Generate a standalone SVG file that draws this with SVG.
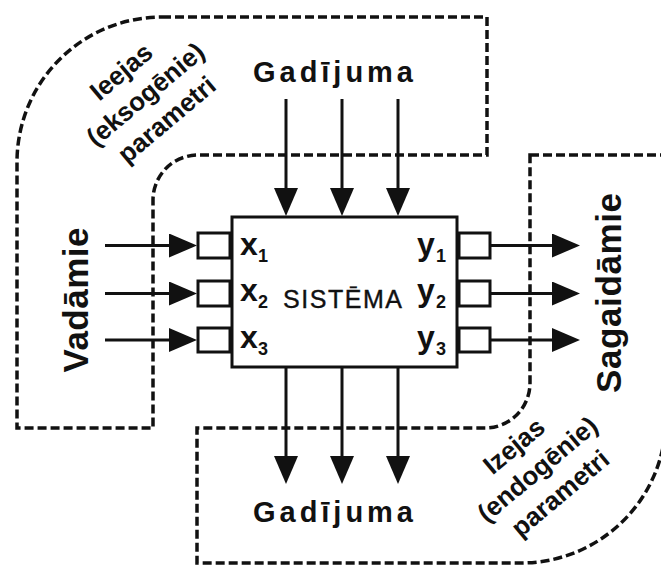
<svg xmlns="http://www.w3.org/2000/svg" width="661" height="565" viewBox="0 0 661 565">
<style>
.bound{fill:none;stroke:#111;stroke-width:3.5;stroke-dasharray:9 4}
.box{fill:#fff;stroke:#111;stroke-width:3}
.ln{stroke:#111;stroke-width:3;fill:none}
.t{font-family:"Liberation Sans",Arial,sans-serif;font-weight:bold;fill:#111}
.sys{font-family:"Liberation Sans",Arial,sans-serif;fill:#111}
</style>
<defs>
<marker id="ah" viewBox="0 0 28 24" refX="22" refY="12" markerWidth="28" markerHeight="24" markerUnits="userSpaceOnUse" orient="auto">
<path d="M0,0 L28,12 L0,24 z" fill="#111"/>
</marker>
</defs>
<rect width="661" height="565" fill="#fff"/>
<g id="inputs-boundary">
<path class="bound" d="M162,17 H487 V155 H198 A45 45 0 0 0 153 200 V428 H17 V162 A145 145 0 0 1 162 17 Z"/>
<text class="t" transform="rotate(-40 126.9 78.4)" x="126.9" y="78.4" font-size="26" text-anchor="middle">Ieejas</text>
<text class="t" transform="rotate(-40 151.1 101.1)" x="151.1" y="101.1" font-size="26" text-anchor="middle">(eksogēnie)</text>
<text class="t" transform="rotate(-40 172.4 126.4)" x="172.4" y="126.4" font-size="26" text-anchor="middle">parametri</text>
</g>
<g id="outputs-boundary">
<path class="bound" d="M530,155 H666 V418 A145 145 0 0 1 521 563 H197 V428 H485 A45 45 0 0 0 530 383 Z"/>
<text class="t" transform="rotate(-40 519.6 452.8)" x="519.6" y="452.8" font-size="26" text-anchor="middle">Izejas</text>
<text class="t" transform="rotate(-40 543.1 476.1)" x="543.1" y="476.1" font-size="26" text-anchor="middle">(endogēnie)</text>
<text class="t" transform="rotate(-40 565.9 500.1)" x="565.9" y="500.1" font-size="26" text-anchor="middle">parametri</text>
</g>
<g id="connectors">
<path class="ln" marker-end="url(#ah)" d="M286,99 V210"/>
<path class="ln" marker-end="url(#ah)" d="M342,99 V210"/>
<path class="ln" marker-end="url(#ah)" d="M398,99 V210"/>
<path class="ln" marker-end="url(#ah)" d="M286,368 V478"/>
<path class="ln" marker-end="url(#ah)" d="M342,368 V478"/>
<path class="ln" marker-end="url(#ah)" d="M398,368 V478"/>
<path class="ln" marker-end="url(#ah)" d="M105,245.5 H191"/>
<path class="ln" marker-end="url(#ah)" d="M105,293.5 H191"/>
<path class="ln" marker-end="url(#ah)" d="M105,340 H191"/>
<path class="ln" marker-end="url(#ah)" d="M490,245.5 H574"/>
<path class="ln" marker-end="url(#ah)" d="M490,293.5 H574"/>
<path class="ln" marker-end="url(#ah)" d="M490,340 H574"/>
</g>
<g id="system">
<rect class="box" x="232" y="217" width="225" height="150"/>
<rect class="box" x="198" y="233" width="32" height="25"/>
<rect class="box" x="198" y="281" width="32" height="25"/>
<rect class="box" x="198" y="328" width="32" height="24"/>
<rect class="box" x="459" y="233" width="31" height="25"/>
<rect class="box" x="459" y="281" width="31" height="25"/>
<rect class="box" x="459" y="328" width="31" height="24"/>
<text class="sys" x="342.5" y="308" font-size="25" text-anchor="middle" textLength="119" lengthAdjust="spacing" stroke="#111" stroke-width="0.4">SISTĒMA</text>
<text class="t" x="240" y="255" font-size="32">x</text><text class="t" x="258" y="262" font-size="18">1</text>
<text class="t" x="240" y="301" font-size="32">x</text><text class="t" x="258" y="308" font-size="18">2</text>
<text class="t" x="240" y="348" font-size="32">x</text><text class="t" x="258" y="355" font-size="18">3</text>
<text class="t" x="417" y="255" font-size="32">y</text><text class="t" x="436" y="262" font-size="18">1</text>
<text class="t" x="417" y="301" font-size="32">y</text><text class="t" x="436" y="308" font-size="18">2</text>
<text class="t" x="417" y="348" font-size="32">y</text><text class="t" x="436" y="355" font-size="18">3</text>
</g>
<g id="random-top">
<text class="t" x="333" y="82" font-size="29" text-anchor="middle" textLength="160" lengthAdjust="spacing">Gadījuma</text>
</g>
<g id="random-bottom">
<text class="t" x="333" y="522" font-size="29" text-anchor="middle" textLength="160" lengthAdjust="spacing">Gadījuma</text>
</g>
<g id="controlled">
<text class="t" transform="rotate(-90 88 300)" x="88" y="300" font-size="35" text-anchor="middle" textLength="145" lengthAdjust="spacing">Vadāmie</text>
</g>
<g id="expected">
<text class="t" transform="rotate(-90 621 293)" x="621" y="293" font-size="35" text-anchor="middle" textLength="200" lengthAdjust="spacing">Sagaidāmie</text>
</g>
</svg>
